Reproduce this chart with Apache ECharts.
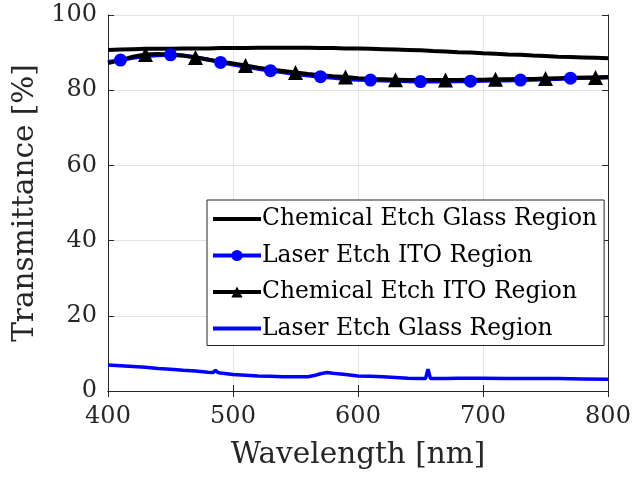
<!DOCTYPE html>
<html>
<head>
<meta charset="utf-8">
<script src="https://cdn.jsdelivr.net/npm/echarts@6/dist/echarts.min.js"></script>
<style>
  html, body { margin: 0; padding: 0; background: #fff; }
  #chart { width: 634px; height: 482px; }
</style>
</head>
<body>
<div id="chart"></div>
<script>
// Wavelength samples (nm) for the three upper curves
const wavelengths = [400, 410, 420, 430, 440, 450, 460, 470, 480, 490, 500, 510, 520, 530, 540, 550, 560, 570, 580, 590,
  600, 610, 620, 630, 640, 650, 660, 670, 680, 690, 700, 710, 720, 730, 740, 750, 760, 770, 780, 790, 800];

const chemGlass = [90.7, 90.8, 90.9, 91.0, 91.0, 91.0, 91.1, 91.1, 91.1, 91.2, 91.2, 91.2, 91.3, 91.3, 91.3, 91.3, 91.3, 91.2, 91.2, 91.1,
  91.1, 91.0, 90.9, 90.8, 90.7, 90.6, 90.4, 90.3, 90.1, 90.0, 89.8, 89.7, 89.5, 89.4, 89.2, 89.1, 88.9, 88.8, 88.7, 88.6, 88.5];

const laserITO = [87.5, 88.0, 88.6, 89.1, 89.3, 89.4, 89.2, 88.8, 88.2, 87.4, 86.8, 86.2, 85.7, 85.2, 84.8, 84.3, 83.9, 83.6, 83.3, 83.0,
  82.8, 82.7, 82.6, 82.5, 82.4, 82.3, 82.3, 82.3, 82.4, 82.4, 82.5, 82.6, 82.6, 82.7, 82.8, 82.9, 83.0, 83.2, 83.3, 83.3, 83.4];

const chemITO = [87.2, 88.0, 88.9, 89.5, 89.6, 89.5, 89.2, 88.7, 88.1, 87.6, 87.1, 86.6, 86.0, 85.5, 85.1, 84.7, 84.3, 84.0, 83.7, 83.5,
  83.2, 83.0, 82.9, 82.8, 82.7, 82.7, 82.7, 82.7, 82.7, 82.8, 82.8, 82.9, 82.9, 83.0, 83.0, 83.1, 83.2, 83.3, 83.3, 83.4, 83.5];

// Marker positions along the ITO curves (nm)
const circleMarks = [410, 450, 490, 530, 570, 610, 650, 690, 730, 770];
const triangleMarks = [430, 470, 510, 550, 590, 630, 670, 710, 750, 790];

// Laser-etched glass: denser sampling around the narrow emission peaks
const glassWavelengths = [400, 410, 420, 430, 440, 450, 460, 470, 480, 484, 486, 488, 490, 500, 510, 520, 530, 540, 550, 560,
  565, 570, 575, 580, 590, 600, 610, 620, 630, 640, 650, 654, 656, 658, 660, 670, 680, 690, 700, 720, 740, 760, 780, 800];
const laserGlass = [6.9, 6.7, 6.5, 6.3, 6.0, 5.8, 5.5, 5.3, 5.0, 4.9, 5.5, 4.9, 4.8, 4.4, 4.2, 4.0, 3.9, 3.8, 3.8, 3.8,
  4.1, 4.6, 4.9, 4.7, 4.4, 4.0, 3.9, 3.8, 3.6, 3.4, 3.3, 3.3, 5.8, 3.3, 3.3, 3.3, 3.4, 3.4, 3.4, 3.3, 3.3, 3.3, 3.2, 3.1];

const seriesNames = ['Chemical Etch Glass Region', 'Laser Etch ITO Region', 'Chemical Etch ITO Region', 'Laser Etch Glass Region'];
const xTicks = [400, 500, 600, 700, 800];
const yTicks = [0, 20, 40, 60, 80, 100];

const FONT = 'DejaVu Serif';
const TEXT = '#262626';
// Plain line swatch for the curves drawn without markers
const LINE_ICON = 'path://M0,0H48V4H0Z';

function pairs(xs, ys) { return xs.map((x, i) => [x, ys[i]]); }
function marked(xs, ys, marks) {
  return xs.map((x, i) => marks.includes(x) ? { value: [x, ys[i]] } : { value: [x, ys[i]], symbol: 'none' });
}

const chart = echarts.init(document.getElementById('chart'), null, { renderer: 'canvas' });

const baseX = {
  type: 'value', min: xTicks[0], max: xTicks[xTicks.length - 1], interval: 100,
  axisLine: { show: true, lineStyle: { color: TEXT, width: 1 } },
  axisTick: { show: true, inside: true, length: 6, lineStyle: { color: TEXT } },
  splitLine: { show: false }
};
const baseY = {
  type: 'value', min: yTicks[0], max: yTicks[yTicks.length - 1], interval: 20,
  axisLine: { show: true, lineStyle: { color: TEXT, width: 1 } },
  axisTick: { show: true, inside: true, length: 6, lineStyle: { color: TEXT } },
  splitLine: { show: false }
};

chart.setOption({
  animation: false,
  backgroundColor: '#fff',
  grid: { left: 108, right: 26, top: 15, bottom: 91, containLabel: false },
  legend: {
    orient: 'vertical',
    left: 207, top: 200,
    backgroundColor: '#fff',
    borderColor: TEXT, borderWidth: 1,
    padding: [6, 7, 4, 4],
    itemWidth: 48, itemHeight: 14, itemGap: 10.5,
    symbolKeepAspect: true,
    lineStyle: { width: 4 },
    textStyle: { fontFamily: FONT, fontSize: 23.4, color: '#000', lineHeight: 26, padding: [0, 0, 0, -4] },
    data: [
      { name: seriesNames[0], icon: LINE_ICON },
      { name: seriesNames[1] },
      { name: seriesNames[2] },
      { name: seriesNames[3], icon: LINE_ICON }
    ]
  },
  xAxis: [
    Object.assign({}, baseX, {
      position: 'bottom',
      name: 'Wavelength [nm]', nameLocation: 'middle', nameGap: 49,
      nameTextStyle: { fontFamily: FONT, fontSize: 29.5, color: TEXT },
      axisLabel: { fontFamily: FONT, fontSize: 24, color: TEXT, margin: 14 },
      splitLine: { show: true, lineStyle: { color: '#e3e3e3', width: 1 } }
    }),
    Object.assign({}, baseX, { position: 'top', axisLabel: { show: false } })
  ],
  yAxis: [
    Object.assign({}, baseY, {
      position: 'left',
      name: 'Transmittance [%]', nameLocation: 'middle', nameGap: 61, nameRotate: 90,
      nameTextStyle: { fontFamily: FONT, fontSize: 29.5, color: TEXT },
      axisLabel: { fontFamily: FONT, fontSize: 24, color: TEXT, margin: 11 },
      splitLine: { show: true, lineStyle: { color: '#e3e3e3', width: 1 } }
    }),
    Object.assign({}, baseY, { position: 'right', axisLabel: { show: false } })
  ],
  series: [
    {
      name: seriesNames[0], type: 'line', xAxisIndex: 0, yAxisIndex: 0,
      data: pairs(wavelengths, chemGlass), symbol: 'none',
      lineStyle: { color: '#000', width: 4 }, itemStyle: { color: '#000' }
    },
    {
      name: seriesNames[1], type: 'line', xAxisIndex: 0, yAxisIndex: 0,
      data: marked(wavelengths, laserITO, circleMarks), symbol: 'circle', symbolSize: 13, showAllSymbol: true,
      lineStyle: { color: '#0000ff', width: 4 }, itemStyle: { color: '#0000ff' }
    },
    {
      name: seriesNames[2], type: 'line', xAxisIndex: 0, yAxisIndex: 0,
      data: marked(wavelengths, chemITO, triangleMarks), symbol: 'triangle', symbolSize: 15, showAllSymbol: true,
      lineStyle: { color: '#000', width: 4 }, itemStyle: { color: '#000' }
    },
    {
      name: seriesNames[3], type: 'line', xAxisIndex: 0, yAxisIndex: 0,
      data: pairs(glassWavelengths, laserGlass), symbol: 'none',
      lineStyle: { color: '#0000ff', width: 3.5 }, itemStyle: { color: '#0000ff' }
    }
  ]
});
</script>
</body>
</html>
